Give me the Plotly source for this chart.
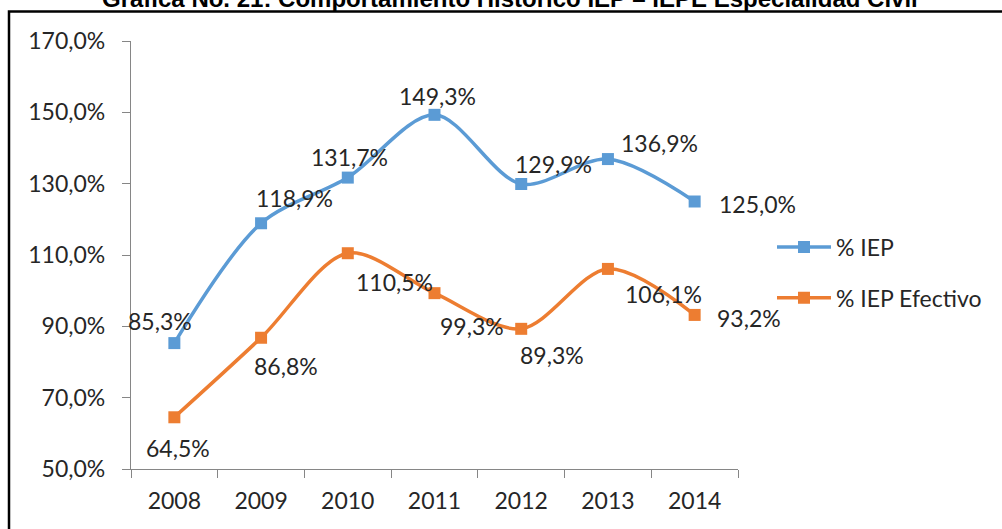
import plotly.graph_objects as go

# ---- data ----
years = ["2008", "2009", "2010", "2011", "2012", "2013", "2014"]
iep = [85.3, 118.9, 131.7, 149.3, 129.9, 136.9, 125.0]
iep_efectivo = [64.5, 86.8, 110.5, 99.3, 89.3, 106.1, 93.2]
y_ticks = [50, 70, 90, 110, 130, 150, 170]
title_text = "Gráfica No. 21: Comportamiento Histórico IEP – IEPE Especialidad Civil"

# ---- style ----
W, H = 1002, 529
L, R, T, B = 131, 264, 41, 60
BLUE = "#5B9BD5"
ORANGE = "#ED7D31"
AXIS = "#868686"
TXT = "#262626"
FONT = "Lato"
FS = 23

# label offsets (pixels, relative to the marker)
iep_off = [(-14, -22), (33, -25), (2, -21), (3, -19), (32, -20), (52, -16), (63, 2)]
efe_off = [(4, 31), (25, 28), (47, 29), (37, 33), (31, 26), (56, 25), (54, 3)]

def fmt(v):
    return f"{v:.1f}".replace(".", ",") + "%"

pw = W - L - R
ph = H - T - B
def px2paper_x(px):
    return (px - L) / pw
def px2paper_y(py):
    return (H - B - py) / ph

fig = go.Figure()
fig.add_trace(go.Scatter(
    x=years, y=iep, name="% IEP", mode="lines+markers",
    line=dict(color=BLUE, width=3.5, shape="spline", smoothing=0.9),
    marker=dict(symbol="square", size=12, color=BLUE),
    legendgroup="a", hoverinfo="skip"))
fig.add_trace(go.Scatter(
    x=years, y=iep_efectivo, name="% IEP Efectivo", mode="lines+markers",
    line=dict(color=ORANGE, width=3.5, shape="spline", smoothing=0.9),
    marker=dict(symbol="square", size=12, color=ORANGE),
    legendgroup="b", hoverinfo="skip"))

annotations = []
for series, offs in ((iep, iep_off), (iep_efectivo, efe_off)):
    for i, (v, (dx, dy)) in enumerate(zip(series, offs)):
        annotations.append(dict(
            x=i, y=v, xref="x", yref="y", text=fmt(v), showarrow=False,
            xshift=dx, yshift=-dy, xanchor="center", yanchor="middle",
            font=dict(family=FONT, size=FS, color=TXT)))

# partially cut title at the very top
annotations.append(dict(
    x=px2paper_x(510), y=px2paper_y(14), xref="paper", yref="paper",
    text="<b>" + title_text + "</b>", showarrow=False,
    xanchor="center", yanchor="bottom",
    font=dict(family="Liberation Sans", size=24, color="#000000")))

# outer frame (only top and left edges fall inside the picture)
shapes = [
    dict(type="rect", xref="paper", yref="paper", layer="above",
         x0=px2paper_x(9), x1=px2paper_x(1030), y0=px2paper_y(11.5), y1=px2paper_y(560),
         line=dict(color="#000000", width=2.5), fillcolor="rgba(0,0,0,0)"),
]

fig.update_layout(
    width=W, height=H,
    margin=dict(l=L, r=R, t=T, b=B),
    paper_bgcolor="white", plot_bgcolor="white",
    font=dict(family=FONT, size=FS, color=TXT),
    annotations=annotations, shapes=shapes,
    showlegend=True,
    legend=dict(x=px2paper_x(772), y=px2paper_y(272.5), xanchor="left", yanchor="middle",
                font=dict(family=FONT, size=FS, color=TXT),
                tracegroupgap=18, itemwidth=54, bgcolor="rgba(0,0,0,0)"),
)
fig.update_xaxes(
    type="category", range=[-0.5, 6.5],
    showline=True, linecolor=AXIS, linewidth=1.3,
    ticks="outside", tickson="boundaries", ticklen=8, tickcolor=AXIS, tickwidth=1.3,
    showgrid=False, zeroline=False, ticklabelstandoff=11,
    tickfont=dict(family=FONT, size=FS, color=TXT))
fig.update_yaxes(
    range=[50, 170], tickvals=y_ticks, ticktext=[fmt(v) for v in y_ticks],
    showline=True, linecolor=AXIS, linewidth=1.3,
    ticks="outside", ticklen=8, tickcolor=AXIS, tickwidth=1.3,
    showgrid=False, zeroline=False, ticklabelstandoff=12,
    tickfont=dict(family=FONT, size=FS, color=TXT))

fig.write_html("out.html", config={"displayModeBar": False},
               post_script="document.body.style.margin='0';document.body.style.overflow='hidden';")
